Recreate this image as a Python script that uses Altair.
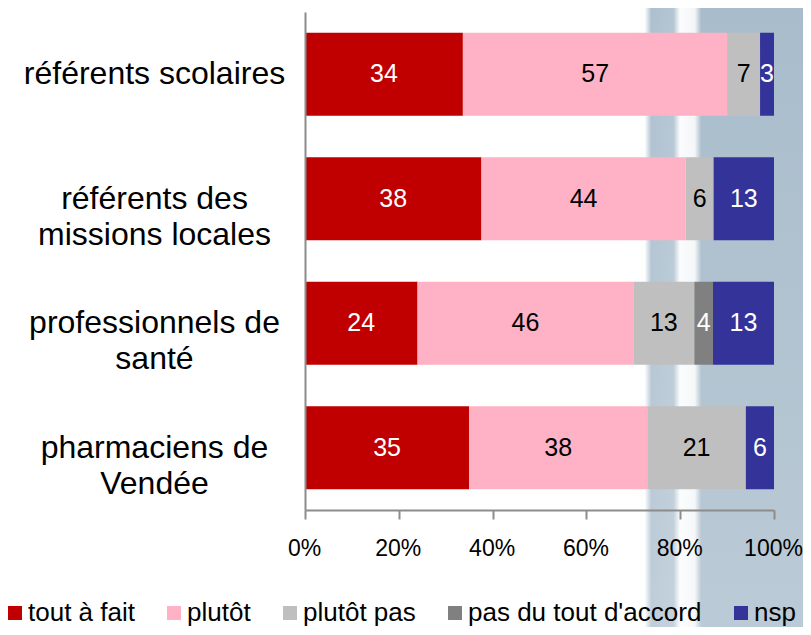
import altair as alt
import pandas as pd

categories = [
    "référents scolaires",
    "référents des\nmissions locales",
    "professionnels de\nsanté",
    "pharmaciens de\nVendée",
]
series = ["tout à fait", "plutôt", "plutôt pas", "pas du tout d'accord", "nsp"]
colors = ["#C00000", "#FFB2C5", "#BFBFBF", "#808080", "#333399"]

tout_a_fait = [34, 38, 24, 35]
plutot = [57, 44, 46, 38]
plutot_pas = [7, 6, 13, 21]
pas_du_tout = [0, 0, 4, 0]
nsp = [3, 13, 13, 6]

cols = [tout_a_fait, plutot, plutot_pas, pas_du_tout, nsp]
rows = []
for ci, cat in enumerate(categories):
    for si, s in enumerate(series):
        rows.append({"cat": cat, "series": s, "order": si, "value": cols[si][ci]})
df = pd.DataFrame(rows)

FONT = "Liberation Sans"

bg_df = pd.DataFrame({"bg": [0]})
bg = alt.Chart(bg_df).mark_rect(
    color=alt.Gradient(
        gradient="linear", x1=0, x2=1, y1=0, y2=0,
        stops=[
            alt.GradientStop(offset=0.0, color="#ffffff"),
            alt.GradientStop(offset=0.08, color="#fdfefe"),
            alt.GradientStop(offset=0.115, color="#adc0cf"),
            alt.GradientStop(offset=0.235, color="#b4c6d3"),
            alt.GradientStop(offset=0.27, color="#fbfcfd"),
            alt.GradientStop(offset=0.35, color="#f3f6f8"),
            alt.GradientStop(offset=0.385, color="#a8bccb"),
            alt.GradientStop(offset=1.0, color="#a8bccb"),
        ],
    )
).encode(x=alt.value(325), x2=alt.value(510), y=alt.value(-12), y2=alt.value(625))

bg2 = alt.Chart(bg_df).mark_rect(
    color=alt.Gradient(
        gradient="linear", x1=0, x2=0, y1=0, y2=1,
        stops=[
            alt.GradientStop(offset=0.0, color="rgba(255,255,255,0)"),
            alt.GradientStop(offset=1.0, color="rgba(255,255,255,0.22)"),
        ],
    )
).encode(x=alt.value(325), x2=alt.value(510), y=alt.value(-12), y2=alt.value(625))

base = alt.Chart(df).transform_stack(
    stack="value",
    groupby=["cat"],
    as_=["x0", "x1"],
    offset="normalize",
    sort=[alt.SortField("order", order="ascending")],
).transform_calculate(xm="(datum.x0 + datum.x1) / 2")

y_enc = alt.Y(
    "cat:N",
    sort=categories,
    title=None,
    scale=alt.Scale(paddingInner=0.336, paddingOuter=0.168),
    axis=alt.Axis(
        labelExpr="split(datum.label, '\\n')",
        labelAlign="center",
        labelBaseline="middle",
        labelPadding=151,
        labelFont=FONT,
        labelFontSize=32,
        labelLineHeight=36,
        labelLimit=1000,
        labelColor="#000000",
        ticks=False,
        tickSize=0,
        domainColor="#8c8c8c",
        domainWidth=2,
        zindex=1,
    ),
)

bars = base.mark_bar(size=83).encode(
    x=alt.X(
        "x0:Q",
        title=None,
        scale=alt.Scale(domain=[0, 1], nice=False),
        axis=alt.Axis(
            values=[0, 0.2, 0.4, 0.6, 0.8, 1.0],
            format="%",
            grid=False,
            labelFont=FONT,
            labelFontSize=23,
            labelColor="#000000",
            labelPadding=18,
            labelOffset=-1,
            tickSize=9,
            tickWidth=2,
            tickColor="#8c8c8c",
            domainColor="#8c8c8c",
            domainWidth=2,
            labelFlush=False,
            zindex=1,
        ),
    ),
    x2="x1:Q",
    y=y_enc,
    color=alt.Color(
        "series:N",
        sort=series,
        scale=alt.Scale(domain=series, range=colors),
        legend=alt.Legend(
            title=None,
            orient="none",
            legendX=-303,
            legendY=588,
            direction="horizontal",
            padding=0,
            symbolType="square",
            symbolSize=196,
            symbolStrokeWidth=0,
            symbolOpacity=1,
            labelFont=FONT,
            labelFontSize=26,
            labelColor="#000000",
            labelOffset=0,
            columnPadding=26,
            labelLimit=400,
        ),
    ),
    order=alt.Order("order:Q"),
)

labels = base.transform_filter("datum.value > 0").mark_text(
    font=FONT, fontSize=25, align="center", baseline="middle"
).encode(
    x=alt.X("xm:Q"),
    y=alt.Y("cat:N", sort=categories),
    text=alt.Text("value:Q"),
    color=alt.condition(
        "datum.series == 'plutôt' || datum.series == 'plutôt pas'",
        alt.value("#000000"),
        alt.value("#ffffff"),
    ),
)

chart = alt.layer(bg, bg2, bars, labels).properties(
    width=469,
    height=498,
    autosize=alt.AutoSizeParams(type="none"),
    padding={"left": 297, "top": 4, "right": 29, "bottom": 117},
    background="#ffffff",
).configure_view(stroke=None)

chart.save("out.html", embed_options={"renderer": "svg", "actions": False})
